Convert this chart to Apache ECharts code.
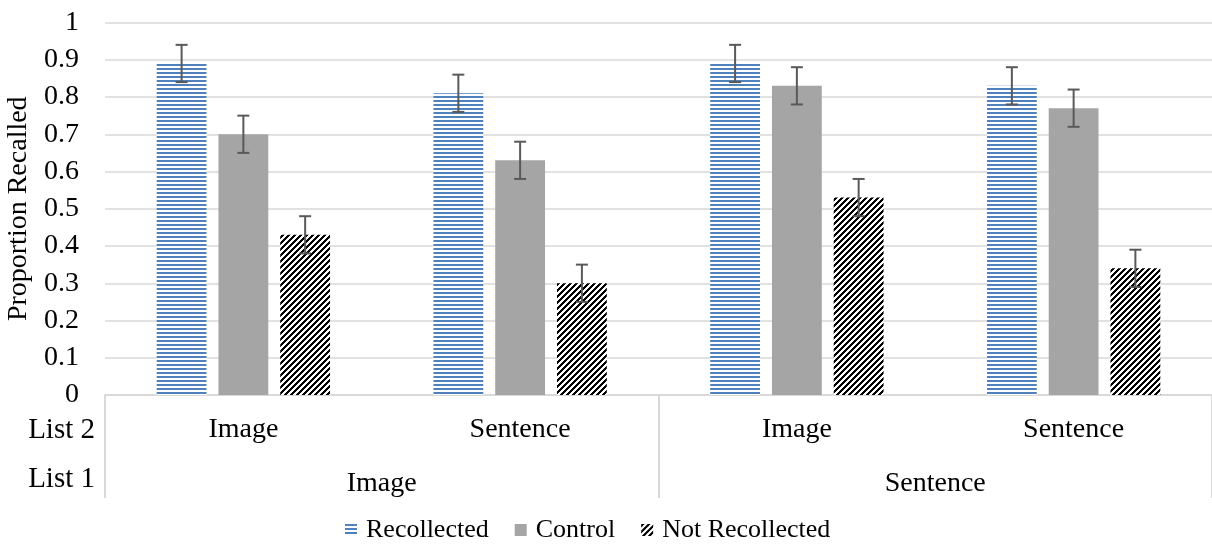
<!DOCTYPE html>
<html>
<head>
<meta charset="utf-8">
<script src="https://cdn.jsdelivr.net/npm/echarts@6/dist/echarts.min.js"></script>
<style>
html,body{margin:0;padding:0;background:#fff;}
#chart{width:1212px;height:550px;}
</style>
</head>
<body>
<div id="chart"></div>
<script>
// ---- data ----
var list2Categories = ['Image', 'Sentence', 'Image', 'Sentence'];
var list1Categories = ['Image', 'Sentence'];
var seriesNames = ['Recollected', 'Control', 'Not Recollected'];
var recollected = [0.89, 0.81, 0.89, 0.83];
var control = [0.70, 0.63, 0.83, 0.77];
var notRecollected = [0.43, 0.30, 0.53, 0.34];
var errRecollected = [0.05, 0.05, 0.05, 0.05];
var errControl = [0.05, 0.05, 0.05, 0.05];
var errNotRecollected = [0.05, 0.05, 0.05, 0.05];
var yTicks = { min: 0, max: 1, interval: 0.1 };

// ---- styling ----
var FONT = 'Liberation Serif';
var BAR_W = 0.18, BAR_GAP = 0.24;

function stripePattern() {
  var c = document.createElement('canvas'); c.width = 4; c.height = 4;
  var g = c.getContext('2d');
  g.fillStyle = '#ffffff'; g.fillRect(0, 0, 4, 4);
  g.fillStyle = '#4F81BD'; g.fillRect(0, 0, 4, 2);
  return c;
}
function diagPattern() {
  var n = 6;
  var c = document.createElement('canvas'); c.width = n; c.height = n;
  var g = c.getContext('2d');
  var img = g.createImageData(n, n);
  for (var y = 0; y < n; y++) for (var x = 0; x < n; x++) {
    var k = (y * n + x) * 4;
    var black = ((x + y) % n) < 3;
    var v = black ? 0 : 255;
    img.data[k] = v; img.data[k + 1] = v; img.data[k + 2] = v; img.data[k + 3] = 255;
  }
  g.putImageData(img, 0, 0);
  return c;
}

var colors = [
  { image: stripePattern(), repeat: 'repeat' },
  '#A5A5A5',
  { image: diagPattern(), repeat: 'repeat' }
];
var values = [recollected, control, notRecollected];
var errs = [errRecollected, errControl, errNotRecollected];

var series = [];
values.forEach(function (vals, k) {
  series.push({
    name: seriesNames[k],
    type: 'bar',
    xAxisIndex: 0,
    barWidth: (BAR_W * 100) + '%',
    barGap: (BAR_GAP * 100) + '%',
    itemStyle: { color: colors[k] },
    emphasis: { disabled: true },
    data: vals
  });
});
values.forEach(function (vals, k) {
  series.push({
    name: seriesNames[k] + ' error',
    type: 'custom',
    xAxisIndex: 0,
    z: 5,
    silent: true,
    data: vals.map(function (v, i) { return [i, v, errs[k][i]]; }),
    renderItem: function (params, api) {
      var i = api.value(0), v = api.value(1), e = api.value(2);
      var band = api.size([1, 0])[0];
      var w = band * BAR_W;
      var off = (k - 1) * w * (1 + BAR_GAP);
      var top = api.coord([i, v + e]);
      var bot = api.coord([i, v - e]);
      var x = top[0] + off;
      var st = { stroke: '#595959', lineWidth: 2 };
      var hw = 6;
      return {
        type: 'group',
        children: [
          { type: 'line', shape: { x1: x, y1: top[1], x2: x, y2: bot[1] }, style: st },
          { type: 'line', shape: { x1: x - hw, y1: top[1], x2: x + hw, y2: top[1] }, style: st },
          { type: 'line', shape: { x1: x - hw, y1: bot[1], x2: x + hw, y2: bot[1] }, style: st }
        ]
      };
    }
  });
});

var chart = echarts.init(document.getElementById('chart'), null, { renderer: 'canvas' });
chart.setOption({
  animation: false,
  textStyle: { fontFamily: FONT, color: '#000' },
  grid: { left: 105, right: 0, top: 22.5, bottom: 155, containLabel: false, outerBoundsMode: 'none' },
  legend: {
    data: seriesNames,
    left: 340,
    top: 512,
    itemWidth: 12,
    itemHeight: 12,
    itemGap: 26,
    icon: 'rect',
    textStyle: { fontFamily: FONT, fontSize: 26, color: '#000', padding: [0, 0, 0, 4] }
  },
  xAxis: [
    {
      type: 'category',
      data: list2Categories,
      position: 'bottom',
      axisLine: { show: true, lineStyle: { color: '#d9d9d9', width: 2 } },
      axisTick: {
        show: true, length: 103,
        interval: function (idx) { return idx % 2 === 0; },
        lineStyle: { color: '#d9d9d9', width: 2 }
      },
      axisLabel: { fontFamily: FONT, fontSize: 28, color: '#000', margin: 21, interval: 0 },
      name: 'List 2',
      nameLocation: 'start',
      nameGap: 10,
      nameTextStyle: { fontFamily: FONT, fontSize: 29, color: '#000', align: 'right', verticalAlign: 'top', padding: [21, 0, 0, 0] }
    },
    {
      type: 'category',
      data: list1Categories,
      position: 'bottom',
      offset: 68,
      axisLine: { show: false },
      axisTick: { show: false },
      axisLabel: { fontFamily: FONT, fontSize: 28, color: '#000', margin: 7, interval: 0 },
      name: 'List 1',
      nameLocation: 'start',
      nameGap: 10,
      nameTextStyle: { fontFamily: FONT, fontSize: 29, color: '#000', align: 'right', verticalAlign: 'top', padding: [2, 0, 0, 0] }
    }
  ],
  yAxis: {
    type: 'value',
    min: yTicks.min, max: yTicks.max, interval: yTicks.interval,
    axisLine: { show: false },
    axisTick: { show: false },
    splitLine: { lineStyle: { color: '#d9d9d9', width: 1.5 } },
    axisLabel: { fontFamily: FONT, fontSize: 28, color: '#000', margin: 26 },
    name: 'Proportion Recalled',
    nameLocation: 'middle',
    nameGap: 67,
    nameTextStyle: { fontFamily: FONT, fontSize: 28, color: '#000' }
  },
  series: series
});
</script>
</body>
</html>
